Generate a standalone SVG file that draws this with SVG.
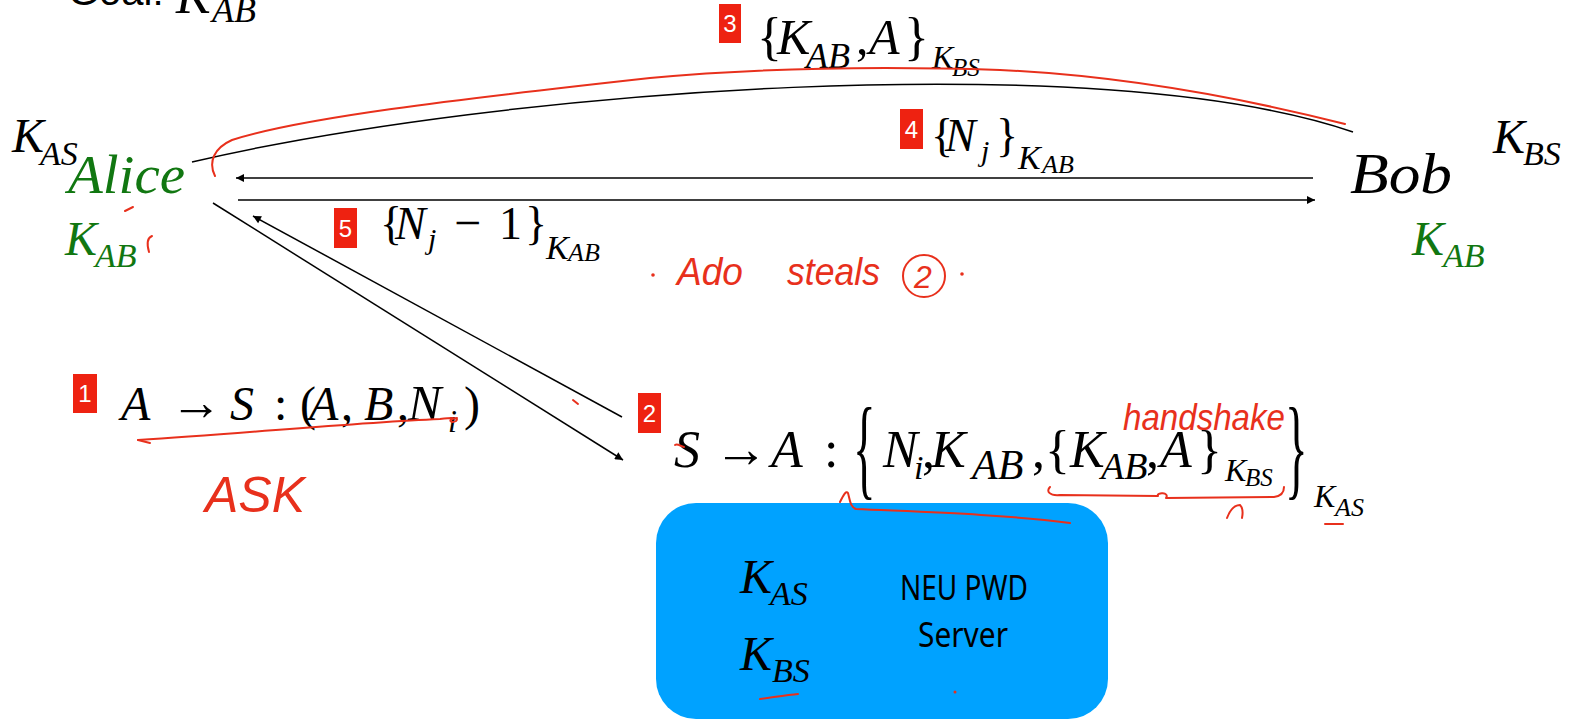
<svg xmlns="http://www.w3.org/2000/svg" width="1579" height="721" viewBox="0 0 1579 721">
<style>
.m{font-family:"Liberation Serif",serif;font-style:italic;fill:#000}
.u{font-family:"Liberation Serif",serif;fill:#000}
.g{fill:#117711}
.badge rect{fill:#EE2211}
.badge text{font-family:"Liberation Sans",Arial,sans-serif;font-size:24px;fill:#fff;text-anchor:middle}
.red{fill:none;stroke:#E8301C;stroke-width:2;stroke-linecap:round;stroke-linejoin:round}
.hand{font-family:"Liberation Sans",Arial,sans-serif;fill:#E8301C;font-style:italic}
.conn{fill:none;stroke:#000;stroke-width:1.5}
.srv{font-family:"Noto Sans","Liberation Sans",sans-serif;fill:#000}
</style>
<defs>
<marker id="ah" viewBox="0 0 10 10" refX="10" refY="5" markerWidth="11" markerHeight="8" markerUnits="userSpaceOnUse" orient="auto"><path d="M0,0 L10,5 L0,10 z" fill="#000"/></marker>
</defs>
<rect width="1579" height="721" fill="#fff"/>

<g id="goal">
<text x="68" y="5" font-family="Liberation Sans,Arial,sans-serif" font-size="40">Goal:</text>
<text class="m" x="176" y="13" font-size="52">K</text>
<text class="m" x="212" y="22" font-size="36">AB</text>
</g>

<g id="connectors">
<path class="conn" d="M192,162 C500,90 1100,45 1353,132"/>
<line class="conn" x1="1313" y1="178" x2="236" y2="178" marker-end="url(#ah)"/>
<line class="conn" x1="238" y1="200" x2="1315" y2="200" marker-end="url(#ah)"/>
<line class="conn" x1="213" y1="203" x2="623" y2="460" marker-end="url(#ah)"/>
<line class="conn" x1="622" y1="417" x2="253" y2="216" marker-end="url(#ah)"/>
</g>

<g id="alice">
<text class="m" x="12" y="152" font-size="48">K</text>
<text class="m" x="40" y="165" font-size="34">AS</text>
<text class="m g" x="68" y="193" font-size="54" textLength="117" lengthAdjust="spacingAndGlyphs">Alice</text>
<text class="m g" x="65" y="255" font-size="48">K</text>
<text class="m g" x="95" y="267" font-size="34">AB</text>
</g>

<g id="bob">
<text class="m" x="1493" y="153" font-size="48">K</text>
<text class="m" x="1523" y="165" font-size="34">BS</text>
<text class="m" x="1350" y="193" font-size="56" textLength="102" lengthAdjust="spacingAndGlyphs">Bob</text>
<text class="m g" x="1412" y="255" font-size="48">K</text>
<text class="m g" x="1443" y="267" font-size="34">AB</text>
</g>

<g id="msg3">
<g class="badge"><rect x="719" y="4" width="22" height="39"/><text x="730" y="32">3</text></g>
<text class="u" x="757" y="54" font-size="52">{</text>
<text class="m" x="777" y="54" font-size="50">K</text>
<text class="m" x="806" y="68" font-size="36">AB</text>
<text class="u" x="856" y="54" font-size="50">,</text>
<text class="m" x="869" y="54" font-size="50">A</text>
<text class="u" x="904" y="54" font-size="52">}</text>
<text class="m" x="932" y="68" font-size="32">K</text>
<text class="m" x="952" y="76" font-size="25">BS</text>
</g>

<g id="msg4">
<g class="badge"><rect x="900" y="109" width="23" height="40"/><text x="911.5" y="138">4</text></g>
<text class="u" x="931" y="151" font-size="46">{</text>
<text class="m" x="945" y="151" font-size="46">N</text>
<text class="m" x="981" y="161" font-size="30">j</text>
<text class="u" x="996" y="151" font-size="46">}</text>
<text class="m" x="1018" y="169" font-size="34">K</text>
<text class="m" x="1042" y="173" font-size="26">AB</text>
</g>

<g id="msg5">
<g class="badge"><rect x="334" y="208" width="23" height="40"/><text x="345.5" y="237">5</text></g>
<text class="u" x="380" y="239" font-size="46">{</text>
<text class="m" x="395" y="239" font-size="46">N</text>
<text class="m" x="428" y="249" font-size="30">j</text>
<text class="u" x="454" y="239" font-size="48">−</text>
<text class="u" x="499" y="239" font-size="46">1</text>
<text class="u" x="525" y="239" font-size="46">}</text>
<text class="m" x="546" y="259" font-size="34">K</text>
<text class="m" x="568" y="261" font-size="26">AB</text>
</g>

<g id="msg1">
<g class="badge"><rect x="73" y="374" width="24" height="39"/><text x="85" y="402">1</text></g>
<text class="m" x="121" y="420" font-size="48">A</text>
<text class="u" x="170" y="420" font-size="52">→</text>
<text class="m" x="230" y="420" font-size="48">S</text>
<text class="u" x="274" y="420" font-size="48">:</text>
<text class="u" x="300" y="420" font-size="48">(</text>
<text class="m" x="309" y="420" font-size="48">A</text>
<text class="u" x="341" y="420" font-size="48">,</text>
<text class="m" x="364" y="420" font-size="48">B</text>
<text class="u" x="397" y="420" font-size="48">,</text>
<text class="m" x="408" y="420" font-size="50">N</text>
<text class="m" x="448" y="432" font-size="32">i</text>
<text class="u" x="464" y="420" font-size="48">)</text>
</g>

<g id="msg2">
<g class="badge"><rect x="638" y="393" width="23" height="40"/><text x="649.5" y="422">2</text></g>
<text class="m" x="674" y="467" font-size="52">S</text>
<text class="u" x="714" y="467" font-size="54">→</text>
<text class="m" x="771" y="467" font-size="52">A</text>
<text class="u" x="824" y="467" font-size="52">:</text>
<text class="u" transform="translate(853,485) scale(0.42,1)" font-size="112">{</text>
<text class="m" x="883" y="467" font-size="52">N</text>
<text class="m" x="914" y="479" font-size="34">i</text>
<text class="u" x="922" y="467" font-size="52">,</text>
<text class="m" x="931" y="467" font-size="52">K</text>
<text class="m" x="972" y="479" font-size="42">AB</text>
<text class="u" x="1032" y="467" font-size="52">,</text>
<text class="u" x="1045" y="467" font-size="52">{</text>
<text class="m" x="1070" y="467" font-size="52">K</text>
<text class="m" x="1101" y="479" font-size="38">AB</text>
<text class="u" x="1146" y="467" font-size="52">,</text>
<text class="m" x="1160" y="467" font-size="52">A</text>
<text class="u" x="1197" y="467" font-size="52">}</text>
<text class="m" x="1225" y="481" font-size="32">K</text>
<text class="m" x="1245" y="486" font-size="25">BS</text>
<text class="u" transform="translate(1285,485) scale(0.42,1)" font-size="112">}</text>
<text class="m" x="1314" y="507" font-size="32">K</text>
<text class="m" x="1335" y="516" font-size="26">AS</text>
</g>

<g id="server">
<rect x="656" y="503" width="452" height="216" rx="40" ry="40" fill="#00A2FF"/>
<text class="m" x="740" y="593" font-size="48">K</text>
<text class="m" x="770" y="605" font-size="34">AS</text>
<text class="m" x="740" y="670" font-size="48">K</text>
<text class="m" x="772" y="682" font-size="34">BS</text>
<text class="srv" x="900" y="600" font-size="35" textLength="128" lengthAdjust="spacingAndGlyphs">NEU PWD</text>
<text class="srv" x="918" y="647" font-size="35" textLength="90" lengthAdjust="spacingAndGlyphs">Server</text>
</g>

<g id="annotations">
<path class="red" d="M215,176 C208,162 214,148 232,140 C300,118 450,100 650,78 C760,68 880,66 1000,70 C1130,76 1250,100 1345,124"/>
<path class="red" d="M125,211 L133,207"/>
<path class="red" d="M152,236 C147,238 147,245 149,252"/>
<path class="red" d="M573,400 L578,404"/>
<path class="red" d="M675,445 C678,443 681,447 684,447"/>
<path class="red" d="M138,440 C250,433 350,423 440,419 C450,418 460,417 456,421 C451,424 446,419 457,418"/>
<path class="red" d="M138,440 L150,443"/>
<path class="red" d="M840,502 C843,496 846,490 848,493 C850,500 850,507 856,509 C920,512 1000,514 1070,523"/>
<path class="red" d="M1050,487 C1046,491 1049,496 1060,495 L1158,496 C1156,492 1170,492 1166,498 L1274,497 C1282,496 1284,492 1284,487"/>
<path class="red" d="M1227,518 C1230,510 1235,505 1240,505 C1243,508 1243,513 1242,518"/>
<path class="red" d="M1325,524 L1343,524" stroke-width="3"/>
<path class="red" d="M760,699 C775,697 788,695 798,694"/>
<circle cx="955" cy="692" r="1.5" fill="#E8301C"/>
<circle cx="653" cy="275" r="1.8" fill="#E8301C"/>
<text class="hand" x="677" y="285" font-size="38" textLength="66" lengthAdjust="spacingAndGlyphs">Ado</text>
<text class="hand" x="787" y="285" font-size="38" textLength="93" lengthAdjust="spacingAndGlyphs">steals</text>
<circle class="red" cx="924" cy="276" r="21"/>
<text class="hand" x="914" y="288" font-size="32">2</text>
<circle cx="962" cy="274" r="1.8" fill="#E8301C"/>
<text class="hand" x="1123" y="430" font-size="36" textLength="162" lengthAdjust="spacingAndGlyphs">handshake</text>
<text class="hand" x="205" y="512" font-size="50" textLength="100" lengthAdjust="spacingAndGlyphs">ASK</text>
</g>
</svg>
